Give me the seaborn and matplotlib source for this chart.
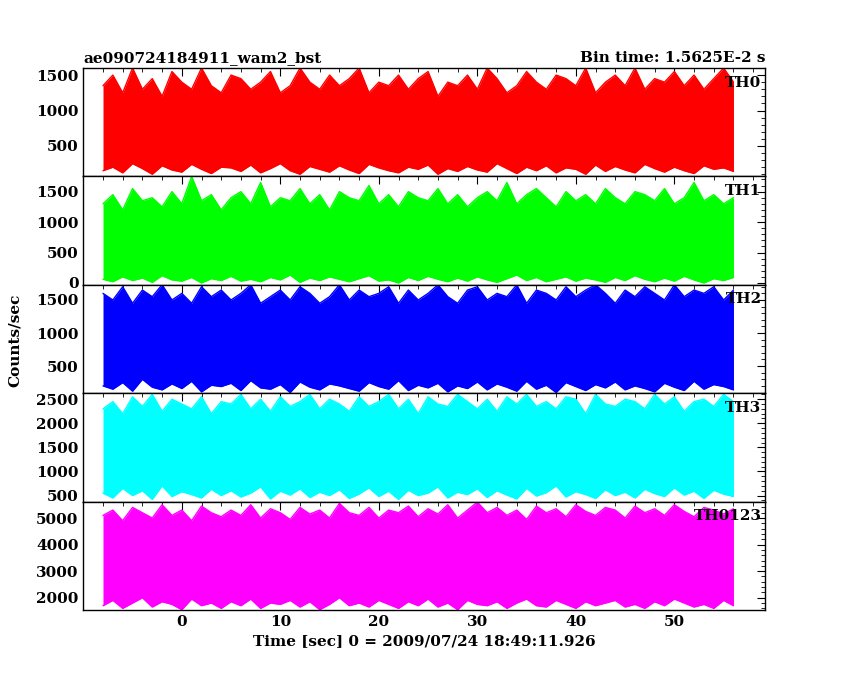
import numpy as np
import matplotlib
matplotlib.use("Agg")
import matplotlib.pyplot as plt
import seaborn as sns
from matplotlib.ticker import AutoMinorLocator

sns.set_style("white")
plt.rcParams['font.family'] = ['DejaVu Serif']
plt.rcParams['font.weight'] = 'bold'
plt.rcParams['text.color'] = 'black'
plt.rcParams['xtick.color'] = 'black'
plt.rcParams['ytick.color'] = 'black'
plt.rcParams['axes.labelcolor'] = 'black'

panel_names = ["TH0", "TH1", "TH2", "TH3", "TH0123"]
colors = ["#ff0000", "#00ff00", "#0000ff", "#00ffff", "#ff00ff"]
ylims = [(70, 1600), (-30, 1750), (90, 1730), (375, 2625), (1540, 5620)]
yticks = [[500, 1000, 1500], [0, 500, 1000, 1500], [500, 1000, 1500],
          [500, 1000, 1500, 2000, 2500], [2000, 3000, 4000, 5000]]

th0_upper = [1350,1500,1250,1600,1300,1450,1200,1550,1400,1300,1600,1350,1250,
             1500,1450,1300,1400,1550,1250,1350,1600,1400,1300,1500,1350,1450,
             1600,1250,1400,1350,1500,1300,1450,1550,1200,1400,1350,1500,1300,
             1600,1450,1250,1350,1550,1400,1300,1500,1450,1350,1600,1250,1400,
             1500,1350,1600,1300,1450,1400,1550,1350,1500,1300,1450,1600,1400]
th0_lower = [150,200,120,250,180,100,220,160,130,240,170,110,200,
             190,140,230,120,180,250,150,100,210,170,130,220,160,
             110,240,190,150,120,200,170,230,100,180,140,210,160,
             130,250,180,110,200,150,220,120,190,170,100,230,140,
             210,160,120,240,180,130,200,150,110,220,170,190,140]
th1_upper = [1300,1450,1200,1550,1350,1400,1250,1500,1300,1750,1350,1450,1200,
             1400,1500,1300,1650,1250,1400,1350,1550,1300,1450,1200,1500,1400,
             1350,1600,1300,1450,1250,1500,1400,1350,1550,1300,1450,1250,1400,
             1500,1350,1650,1300,1450,1550,1400,1250,1500,1350,1450,1300,1550,
             1400,1300,1500,1450,1350,1550,1300,1400,1650,1350,1450,1300,1400]
th1_lower = [60,20,100,40,80,10,120,50,30,90,0,70,40,
             110,30,60,20,90,50,130,10,80,40,100,60,20,
             70,120,30,50,0,90,40,110,60,20,80,30,100,
             50,10,70,130,40,90,20,60,100,30,80,50,10,
             90,40,120,60,20,80,30,110,50,0,70,40,90]
th2_upper = [1600,1500,1700,1450,1650,1550,1730,1500,1600,1450,1700,1550,1650,
             1500,1600,1730,1450,1550,1650,1500,1700,1600,1450,1550,1730,1500,
             1650,1550,1600,1700,1450,1650,1500,1600,1730,1550,1450,1650,1700,
             1500,1600,1550,1730,1450,1650,1600,1500,1700,1550,1650,1730,1600,
             1450,1650,1550,1700,1600,1500,1730,1550,1650,1600,1700,1500,1650]
th2_lower = [200,150,250,120,300,180,140,230,160,270,110,210,190,
             240,130,280,170,150,220,100,260,180,140,230,200,160,
             120,250,190,150,280,130,210,170,240,110,200,160,260,
             140,230,180,120,270,150,210,100,250,190,130,220,170,
             260,140,200,160,110,240,180,130,270,150,220,190,140]
th3_upper = [2300,2450,2200,2550,2350,2600,2250,2500,2400,2300,2550,2200,2450,
             2400,2600,2300,2500,2250,2550,2350,2450,2600,2300,2500,2400,2250,
             2550,2350,2450,2600,2300,2500,2200,2550,2400,2350,2600,2450,2300,
             2500,2250,2550,2400,2600,2350,2450,2300,2550,2500,2200,2600,2400,
             2350,2500,2450,2300,2600,2400,2550,2250,2450,2500,2350,2600,2450]
th3_lower = [550,450,650,500,600,420,700,480,580,520,450,630,500,
             600,470,550,680,430,590,510,640,460,570,500,620,440,
             530,660,480,590,420,610,500,550,680,450,570,520,640,
             460,600,510,430,650,490,560,700,470,580,520,440,620,
             500,570,450,630,540,480,660,510,590,440,610,530,480]
th0123_upper = [5100,5300,4900,5400,5200,5000,5500,5100,5300,4900,5450,5200,5050,
                5300,5100,5500,5000,5350,5200,4950,5400,5150,5300,5000,5550,5200,
                5100,5400,5000,5300,5200,5450,5050,5350,5150,5500,5000,5300,5600,
                5200,5400,5100,5300,4950,5450,5200,5350,5050,5500,5250,5100,5400,
                5300,5000,5450,5200,5350,5100,5500,5250,5050,5400,5300,5150,5350]
th0123_lower = [1700,1900,1600,1800,2000,1650,1850,1750,1550,1950,1700,1800,1600,
                1850,1700,1950,1600,1800,1750,1900,1650,1850,1550,1750,2000,1700,
                1800,1650,1900,1750,1600,1850,1700,1950,1650,1800,1550,1900,1750,
                1700,1850,1600,1800,1950,1700,1650,1900,1750,1600,1850,1700,1800,
                1900,1650,1750,1600,1850,1700,1950,1800,1650,1750,1600,1900,1700]

uppers = [th0_upper, th1_upper, th2_upper, th3_upper, th0123_upper]
lowers = [th0_lower, th1_lower, th2_lower, th3_lower, th0123_lower]
t_start, t_end = -8.0, 56.0

fig, axes = plt.subplots(5, 1, figsize=(8.5, 6.8), dpi=100, sharex=True)
fig.subplots_adjust(left=0.098, right=0.9, top=0.9, bottom=0.103, hspace=0)

for ax, name, c, yl, yt, up, lo in zip(axes, panel_names, colors, ylims, yticks, uppers, lowers):
    t = np.linspace(t_start, t_end, len(up))
    ax.fill_between(t, lo, up, color=c, linewidth=0)
    sns.lineplot(x=t, y=up, ax=ax, color=c, linewidth=1.0)
    sns.lineplot(x=t, y=lo, ax=ax, color=c, linewidth=1.0)
    ax.set_xlim(-10, 59.2)
    ax.set_ylim(*yl)
    ax.set_yticks(yt)
    ax.xaxis.set_minor_locator(AutoMinorLocator(5))
    ax.yaxis.set_minor_locator(AutoMinorLocator(5))
    ax.tick_params(which="both", direction="in", top=True, right=True, labelsize=11)
    ax.tick_params(which="major", length=6)
    ax.tick_params(which="minor", length=3)
    for s in ax.spines.values():
        s.set_color("black"); s.set_linewidth(1)
    ax.text(0.995, 0.93, name, transform=ax.transAxes, ha="right", va="top",
            fontsize=11, fontweight="bold")
    ax.set_ylabel("")

axes[-1].set_xticks([0, 10, 20, 30, 40, 50])
axes[-1].set_xlabel("Time [sec] 0 = 2009/07/24 18:49:11.926", fontsize=11, fontweight="bold")
axes[0].set_title("ae090724184911_wam2_bst", loc="left", fontsize=11, fontweight="bold", pad=4)
axes[0].set_title("Bin time: 1.5625E-2 s", loc="right", fontsize=11, fontweight="bold", pad=4)
fig.text(0.017, 0.5, "Counts/sec", rotation=90, va="center", ha="center", fontsize=11, fontweight="bold")

fig.savefig("out.png", dpi=100)
